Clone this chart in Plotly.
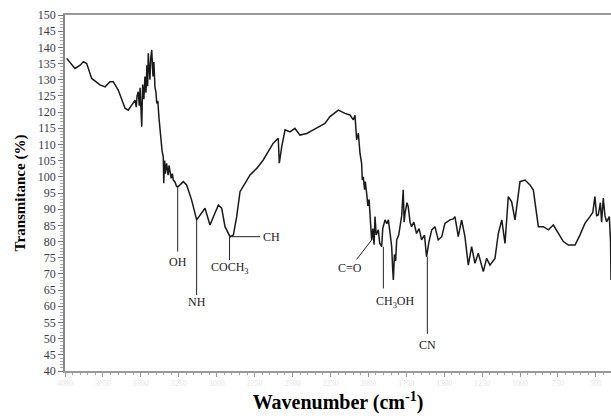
import plotly.graph_objects as go

wavenumber = [3989, 3960, 3934, 3900, 3879, 3857, 3824, 3769, 3736, 3703, 3682, 3649, 3604, 3583, 3560, 3538,
              3530, 3525, 3517, 3510, 3505, 3500, 3494, 3488, 3480, 3473, 3466, 3460, 3455, 3451, 3445, 3440,
              3434, 3428, 3420, 3414, 3407, 3400, 3395, 3388, 3380, 3374, 3366, 3360, 3352, 3349, 3343, 3338,
              3330, 3320, 3314, 3308, 3300, 3292, 3286, 3276, 3264, 3253, 3220, 3198, 3165, 3132, 3110, 3077,
              3044, 3011, 2989, 2967, 2945, 2912, 2890, 2868, 2846, 2813, 2780, 2736, 2693, 2660, 2627, 2594,
              2587, 2571, 2549, 2517, 2484, 2451, 2406, 2363, 2319, 2286, 2253, 2198, 2154, 2121, 2099, 2088,
              2077, 2066, 2055, 2044, 2040, 2033, 2025, 2020, 2011, 2003, 1995, 1989, 1983, 1978, 1970, 1962,
              1956, 1948, 1934, 1925, 1912, 1905, 1890, 1878, 1868, 1855, 1846, 1840, 1835, 1828, 1820, 1813,
              1800, 1791, 1780, 1770, 1764, 1758, 1745, 1737, 1725, 1715, 1700, 1682, 1665, 1649, 1630, 1616,
              1600, 1582, 1561, 1539, 1516, 1495, 1462, 1440, 1429, 1407, 1385, 1363, 1341, 1319, 1297, 1275,
              1242, 1220, 1198, 1165, 1143, 1120, 1099, 1077, 1055, 1033, 1000, 967, 934, 912, 879, 846,
              813, 780, 747, 714, 681, 637, 605, 572, 539, 520, 506, 495, 484, 470, 462, 451,
              440, 429, 411, 403, 400]
transmittance = [136.6, 135.0, 133.5, 134.5, 135.6, 135.0, 130.4, 128.4, 127.8, 129.4, 129.4, 126.8, 121.2, 120.6, 122.2, 123.7,
                 121.5, 125.0, 126.3, 122.0, 127.5, 121.0, 115.5, 128.5, 124.0, 131.0, 126.0, 134.5, 128.0, 138.2, 130.0, 130.0,
                 137.0, 139.2, 131.0, 135.5, 127.8, 126.0, 122.7, 123.5, 118.0, 114.5, 112.0, 108.0, 106.2, 98.0, 105.0, 101.0,
                 104.2, 100.5, 103.5, 102.0, 99.5, 101.0, 99.0, 98.5, 97.0, 97.0, 98.5, 97.5, 92.8, 86.7, 88.2, 90.3,
                 85.1, 88.7, 91.3, 90.3, 84.6, 81.5, 82.0, 87.7, 95.4, 98.0, 100.6, 102.6, 105.2, 107.8, 110.4, 111.9,
                 104.2, 109.3, 114.5, 113.9, 115.0, 112.9, 113.4, 114.5, 115.5, 116.5, 118.6, 120.6, 119.6, 119.1, 117.6, 119.0,
                 111.4, 113.5, 107.3, 104.0, 99.0, 100.0, 96.0, 98.5, 94.9, 91.0, 93.0, 89.7, 84.0, 80.5, 84.0, 79.0,
                 87.7, 82.0, 83.6, 79.5, 78.4, 84.0, 86.7, 85.5, 86.7, 82.0, 78.4, 72.0, 68.1, 76.0, 74.0, 80.5,
                 82.0, 84.6, 88.0, 96.0, 86.0, 88.7, 92.0, 90.8, 86.0, 84.6, 86.0, 82.5, 84.0, 80.5, 82.0, 75.3,
                 80.0, 83.6, 84.6, 80.5, 81.5, 85.6, 86.7, 87.0, 87.7, 81.5, 86.7, 81.5, 72.7, 78.4, 73.3, 76.4,
                 70.7, 74.8, 72.7, 74.8, 82.5, 86.7, 79.4, 93.9, 92.3, 86.7, 98.5, 99.0, 97.5, 95.9, 84.6, 84.6,
                 83.6, 85.1, 82.5, 80.0, 78.9, 78.9, 82.0, 85.6, 87.7, 89.0, 93.9, 88.0, 88.2, 92.0, 86.0, 93.4,
                 88.0, 86.1, 87.7, 80.0, 68.1]

# Peak labels
peak_labels = ["OH", "NH", "COCH<sub>3</sub>", "C=O", "CH<sub>3</sub>OH", "CN"]
peak_x = [3257, 3132, 2915, 1978, 1901, 1611]
peak_y = [97.0, 86.7, 81.5, 80.5, 78.4, 75.3]
line_end_x = [3257, 3132, 2915, 2077, 1901, 1611]
line_end_y = [76.9, 63.5, 74.3, 74.5, 65.5, 51.5]
label_x = [3257, 3132, 2912, 2121, 1824, 1611]
label_y = [73.6, 61.2, 71.8, 71.8, 61.3, 48.0]
ch_label = "CH"
ch_line_end = 2714

fig = go.Figure()
fig.add_trace(go.Scatter(x=wavenumber, y=transmittance, mode="lines",
                         line=dict(color="#1a1a1a", width=1.5), showlegend=False, hoverinfo="skip"))

shapes = []
annotations = []
for lab, px, py, ex, ey, lx, ly in zip(peak_labels, peak_x, peak_y, line_end_x, line_end_y, label_x, label_y):
    shapes.append(dict(type="line", xref="x", yref="y", x0=px, y0=py, x1=ex, y1=ey,
                       line=dict(color="#222", width=1)))
    annotations.append(dict(x=lx, y=ly, xref="x", yref="y", text=lab, showarrow=False,
                            font=dict(family="Liberation Serif", size=12, color="#222"),
                            xanchor="center", yanchor="middle"))
shapes.append(dict(type="line", xref="x", yref="y", x0=2915, y0=81.5, x1=ch_line_end, y1=81.5,
                   line=dict(color="#222", width=1)))
annotations.append(dict(x=ch_line_end, y=81.5, xref="x", yref="y", text=ch_label, showarrow=False,
                        font=dict(family="Liberation Serif", size=12, color="#222"),
                        xanchor="left", yanchor="middle", xshift=1))
fig.update_layout(shapes=shapes, annotations=annotations)

fig.update_layout(
    width=611, height=420,
    margin=dict(l=65, r=0, t=15, b=49),
    paper_bgcolor="white", plot_bgcolor="white",
    xaxis=dict(range=[4000, 400], showgrid=False, zeroline=False, automargin=False,
               showline=True, linecolor="#999", linewidth=1.5, mirror=True,
               ticks="outside", ticklen=4, tickcolor="#999", dtick=250, tick0=4000,
               minor=dict(ticks="outside", ticklen=2, tickcolor="#aaa", dtick=50),
               tickfont=dict(family="Liberation Serif", size=8, color="#e6e6e6"),
               title=dict(text="<b>Wavenumber (cm<sup>-1</sup>)</b>",
                          font=dict(family="Liberation Serif", size=20, color="black"),
                          standoff=8)),
    yaxis=dict(range=[40, 150], showgrid=False, zeroline=False,
               showline=True, linecolor="#888", linewidth=1.5,
               ticks="outside", ticklen=5, tickcolor="#777", dtick=5, tick0=40,
               minor=dict(ticks="outside", ticklen=3, tickcolor="#aaa", dtick=1),
               tickfont=dict(family="Liberation Serif", size=12, color="#3a3a4a"),
               title=dict(text="<b>Transmitance (%)</b>",
                          font=dict(family="Liberation Serif", size=15, color="black"),
                          standoff=9)),
)

fig.write_html("out.html", config={"displayModeBar": False},
               post_script="document.body.style.margin='0';document.documentElement.style.overflow='hidden';document.body.style.overflow='hidden';")
